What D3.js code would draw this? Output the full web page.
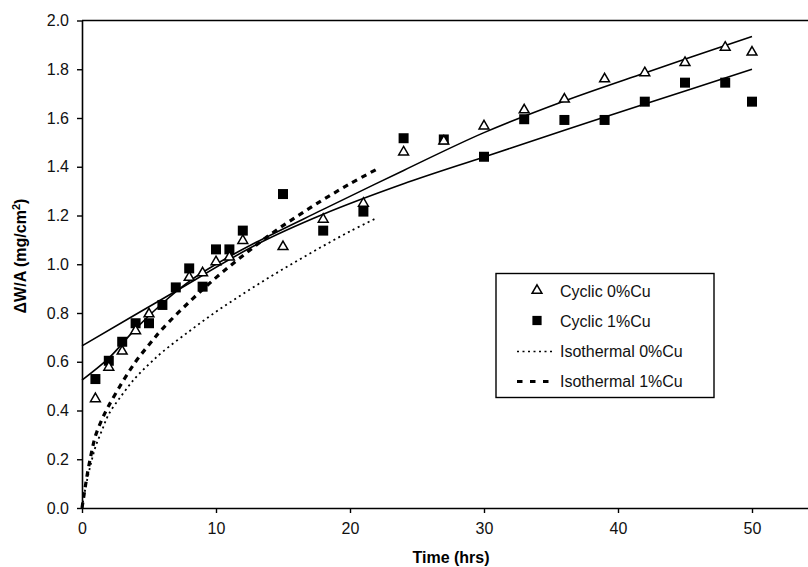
<!DOCTYPE html>
<html>
<head>
<meta charset="utf-8">
<script src="https://cdn.jsdelivr.net/npm/d3@7"></script>
<style>
  body { margin: 0; background: #fff; }
  svg { display: block; font-family: Arial, "Liberation Sans", sans-serif; }
</style>
</head>
<body>
<svg id="chart"></svg>
<script>
// measured points
var cyclic0Time = [1, 2, 3, 4, 5, 8, 9, 10, 11, 12, 15, 18, 21, 24, 27, 30, 33, 36, 39, 42, 45, 48, 50];
var cyclic0Gain = [0.448, 0.577, 0.643, 0.727, 0.796, 0.946, 0.964, 1.01, 1.029, 1.097, 1.072, 1.184, 1.25, 1.46, 1.505, 1.567, 1.633, 1.677, 1.76, 1.785, 1.827, 1.89, 1.87];

var cyclic1Time = [1, 2, 3, 4, 5, 6, 7, 8, 9, 10, 11, 12, 15, 18, 21, 24, 27, 30, 33, 36, 39, 42, 45, 48, 50];
var cyclic1Gain = [0.529, 0.604, 0.682, 0.758, 0.758, 0.833, 0.905, 0.983, 0.908, 1.061, 1.061, 1.138, 1.288, 1.138, 1.216, 1.517, 1.512, 1.441, 1.595, 1.592, 1.592, 1.667, 1.745, 1.745, 1.667];

// trend lines through the cyclic data
var fit0Time = [0, 2, 4, 6, 8, 10, 13, 18, 24, 30, 36, 42, 50];
var fit0Gain = [0.525, 0.615, 0.735, 0.84, 0.93, 1.0, 1.09, 1.225, 1.385, 1.54, 1.67, 1.785, 1.934];

var fit1Time = [0, 6.7, 13, 18, 24, 30, 36, 42, 50];
var fit1Gain = [0.665, 0.88, 1.08, 1.205, 1.33, 1.44, 1.55, 1.657, 1.80];

// isothermal curves
var iso0Time = [0, 0.1, 0.4, 0.7, 1, 1.5, 2, 3, 4, 5, 6, 8, 10, 12, 14, 16, 18, 20, 22];
var iso0Gain = [0, 0.035, 0.12, 0.19, 0.25, 0.32, 0.385, 0.465, 0.535, 0.59, 0.64, 0.725, 0.805, 0.878, 0.947, 1.012, 1.075, 1.135, 1.19];

var iso1Time = [0, 0.1, 0.4, 0.7, 1, 1.5, 2, 3, 4, 5, 6, 8, 10, 12, 14, 16, 18, 20, 22];
var iso1Gain = [0, 0.035, 0.14, 0.225, 0.295, 0.365, 0.42, 0.515, 0.6, 0.67, 0.735, 0.845, 0.945, 1.035, 1.12, 1.195, 1.265, 1.33, 1.39];

var xTicks = [0, 10, 20, 30, 40, 50];
var yTicks = [0, 0.2, 0.4, 0.6, 0.8, 1.0, 1.2, 1.4, 1.6, 1.8, 2.0];
var legendLabels = ["Cyclic 0%Cu", "Cyclic 1%Cu", "Isothermal 0%Cu", "Isothermal 1%Cu"];

var W = 808, H = 567;
var plotLeft = 82, plotTop = 20.5, plotBottom = 508;

var svg = d3.select("#chart")
  .attr("width", W)
  .attr("height", H);

var x = d3.scaleLinear()
  .domain([0, 60])
  .range([plotLeft, plotLeft + 60 * 13.4]);

var y = d3.scaleLinear()
  .domain([0, 2])
  .range([plotBottom, plotTop]);

function pairs(t, v) {
  return t.map(function(d, i) { return [d, v[i]]; });
}

// frame top line
svg.append("line")
  .attr("x1", plotLeft).attr("x2", W)
  .attr("y1", plotTop).attr("y2", plotTop)
  .attr("stroke", "#000").attr("stroke-width", 1.6);

svg.append("g")
  .attr("transform", "translate(0," + plotBottom + ")")
  .call(d3.axisBottom(x).tickValues(xTicks).tickSize(5).tickSizeOuter(0).tickPadding(10).tickFormat(d3.format("d")));

svg.append("g")
  .attr("transform", "translate(" + plotLeft + ",0)")
  .call(d3.axisLeft(y).tickValues(yTicks).tickSize(5).tickSizeOuter(0).tickPadding(8).tickFormat(d3.format(".1f")));

svg.selectAll(".domain").attr("stroke-width", 1.6);
svg.selectAll(".tick line").attr("stroke-width", 1.4);
svg.selectAll(".tick text")
  .attr("font-size", 16)
  .attr("font-family", "Arial, 'Liberation Sans', sans-serif")
  .attr("fill", "#111");

svg.append("text")
  .attr("x", 451).attr("y", 563)
  .attr("text-anchor", "middle")
  .attr("font-size", 16).attr("font-weight", "bold")
  .text("Time (hrs)");

var yl = svg.append("text")
  .attr("transform", "translate(26,256) rotate(-90)")
  .attr("text-anchor", "middle")
  .attr("font-size", 16).attr("font-weight", "bold");
yl.append("tspan").text("\u0394W/A (mg/cm");
yl.append("tspan").attr("dy", -6).attr("font-size", 11).text("2");
yl.append("tspan").attr("dy", 6).text(")");

var line = d3.line()
  .x(function(d) { return x(d[0]); })
  .y(function(d) { return y(d[1]); })
  .curve(d3.curveCatmullRom.alpha(0.5));

svg.append("path")
  .datum(pairs(iso0Time, iso0Gain))
  .attr("d", line)
  .attr("fill", "none").attr("stroke", "#000")
  .attr("stroke-width", 1.8).attr("stroke-dasharray", "2,3.5");

svg.append("path")
  .datum(pairs(iso1Time, iso1Gain))
  .attr("d", line)
  .attr("fill", "none").attr("stroke", "#000")
  .attr("stroke-width", 3.2).attr("stroke-dasharray", "5.5,5");

svg.append("path")
  .datum(pairs(fit0Time, fit0Gain))
  .attr("d", line)
  .attr("fill", "none").attr("stroke", "#000").attr("stroke-width", 1.6);

svg.append("path")
  .datum(pairs(fit1Time, fit1Gain))
  .attr("d", line)
  .attr("fill", "none").attr("stroke", "#000").attr("stroke-width", 1.6);

var square = d3.symbol().type(d3.symbolSquare).size(100);
var tri = d3.symbol().type(d3.symbolTriangle).size(42);

svg.append("g").selectAll("path")
  .data(pairs(cyclic1Time, cyclic1Gain))
  .enter().append("path")
  .attr("d", square)
  .attr("transform", function(d) { return "translate(" + x(d[0]) + "," + y(d[1]) + ")"; })
  .attr("fill", "#000");

svg.append("g").selectAll("path")
  .data(pairs(cyclic0Time, cyclic0Gain))
  .enter().append("path")
  .attr("d", tri)
  .attr("transform", function(d) { return "translate(" + x(d[0]) + "," + y(d[1]) + ")"; })
  .attr("fill", "#fff").attr("stroke", "#000").attr("stroke-width", 1.5);

// legend
var lg = svg.append("g").attr("transform", "translate(496,273.5)");
lg.append("rect")
  .attr("width", 218).attr("height", 124)
  .attr("fill", "#fff").attr("stroke", "#000").attr("stroke-width", 1.4);

var rowY = [17, 47, 77, 107];
lg.selectAll("text.lab")
  .data(legendLabels)
  .enter().append("text")
  .attr("class", "lab")
  .attr("x", 64)
  .attr("y", function(d, i) { return rowY[i] + 6; })
  .attr("font-size", 16)
  .attr("fill", "#111")
  .text(function(d) { return d; });

lg.append("path").attr("d", tri)
  .attr("transform", "translate(41," + rowY[0] + ")")
  .attr("fill", "#fff").attr("stroke", "#000").attr("stroke-width", 1.5);
lg.append("path").attr("d", d3.symbol().type(d3.symbolSquare).size(85))
  .attr("transform", "translate(41," + rowY[1] + ")")
  .attr("fill", "#000");
lg.append("line")
  .attr("x1", 21).attr("x2", 58).attr("y1", rowY[2] + 1).attr("y2", rowY[2] + 1)
  .attr("stroke", "#000").attr("stroke-width", 1.6).attr("stroke-dasharray", "2,3.5");
lg.append("line")
  .attr("x1", 21).attr("x2", 58).attr("y1", rowY[3] + 1).attr("y2", rowY[3] + 1)
  .attr("stroke", "#000").attr("stroke-width", 3).attr("stroke-dasharray", "5.5,7.5");
</script>
</body>
</html>
